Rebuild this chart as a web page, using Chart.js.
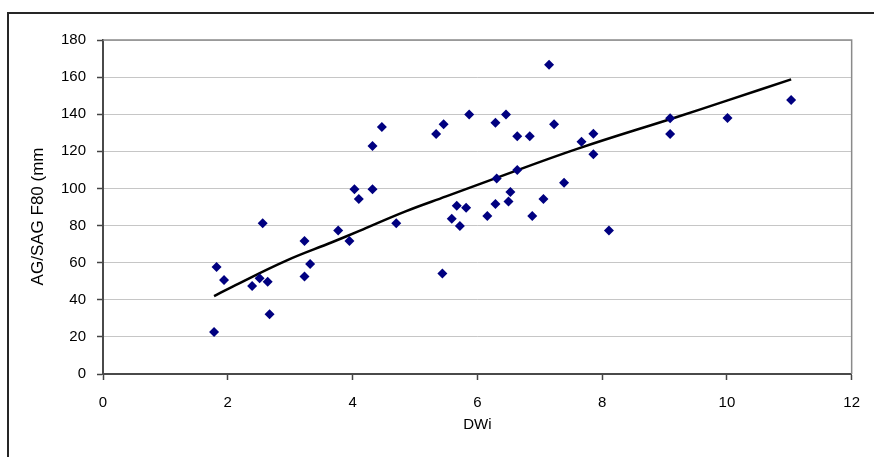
<!DOCTYPE html>
<html>
<head>
<meta charset="utf-8">
<script src="https://cdn.jsdelivr.net/npm/chart.js@4.4.1/dist/chart.umd.min.js"></script>
<style>
  html, body { margin: 0; padding: 0; background: #fff; overflow: hidden; }
  #wrap { position: relative; width: 874px; height: 457px; overflow: hidden; }
  #frame { position: absolute; left: 7px; top: 12px; width: 900px; height: 500px; border: 2px solid #262626; }
  canvas { position: absolute; left: 0; top: 0; }
</style>
</head>
<body>
<div id="wrap">
  <div id="frame"></div>
  <canvas id="c" width="874" height="457"></canvas>
</div>
<script>
// Observed points (DWi, AG/SAG F80)
const dwi = [1.78, 1.82, 1.94, 2.39, 2.51, 2.56, 2.64, 2.67, 3.23, 3.23, 3.32, 3.77, 3.95, 4.03, 4.10, 4.32, 4.32, 4.47, 4.70, 5.34,
             5.44, 5.46, 5.59, 5.67, 5.72, 5.82, 5.87, 6.16, 6.29, 6.29, 6.31, 6.46, 6.50, 6.53, 6.64, 6.64, 6.84, 6.88, 7.06, 7.15,
             7.23, 7.39, 7.67, 7.86, 7.86, 8.11, 9.09, 9.09, 10.01, 11.03];
const f80 = [22.6, 57.7, 50.7, 47.4, 51.6, 81.2, 49.7, 32.2, 71.7, 52.6, 59.3, 77.4, 71.7, 99.5, 94.3, 122.9, 99.5, 133.1, 81.2, 129.3,
             54.1, 134.6, 83.7, 90.7, 79.8, 89.6, 139.8, 85.1, 135.4, 91.6, 105.4, 139.8, 92.9, 98.1, 128.1, 109.9, 128.1, 85.1, 94.3, 166.7,
             134.6, 103.1, 125.2, 129.5, 118.4, 77.4, 137.8, 129.3, 138.0, 147.7];
// Trend curve
const trendX = [1.78, 2.07, 2.93, 3.67, 4.10, 4.84, 5.50, 6.22, 7.60, 9.20, 10.00, 11.03];
const trendY = [42, 47, 61, 71, 77, 87.5, 95.7, 104.6, 121.3, 138.5, 147.3, 158.8];
// Axis settings
const xTicks = { min: 0, max: 12, step: 2 };
const yTicks = { min: 0, max: 180, step: 20 };
const xTitle = 'DWi';
const yTitle = 'AG/SAG F80 (mm';

const FONT = '"Liberation Sans", Arial, sans-serif';

const borderPlugin = {
  id: 'plotBorder',
  beforeDatasetsDraw(chart) {
    const { ctx, chartArea: a } = chart;
    ctx.save();
    ctx.strokeStyle = '#8a8a8a';
    ctx.lineWidth = 1.5;
    ctx.beginPath();
    ctx.moveTo(a.left, a.top);
    ctx.lineTo(a.right, a.top);
    ctx.lineTo(a.right, a.bottom);
    ctx.stroke();
    ctx.restore();
  }
};

new Chart(document.getElementById('c'), {
  type: 'scatter',
  data: {
    datasets: [
      {
        label: 'trend',
        data: trendX.map((x, i) => ({ x, y: trendY[i] })),
        showLine: true,
        borderColor: '#000000',
        borderWidth: 2.5,
        pointRadius: 0,
        tension: 0.4,
        order: 2
      },
      {
        label: 'data',
        data: dwi.map((x, i) => ({ x, y: f80[i] })),
        pointStyle: 'rectRot',
        pointRadius: 5,
        backgroundColor: '#000080',
        borderColor: '#000080',
        borderWidth: 0,
        order: 1
      }
    ]
  },
  options: {
    responsive: false,
    animation: false,
    devicePixelRatio: 1,
    layout: { padding: { left: 0, top: 40, right: 17, bottom: 0 } },
    plugins: { legend: { display: false }, tooltip: { enabled: false } },
    scales: {
      x: {
        type: 'linear',
        min: xTicks.min, max: xTicks.max,
        ticks: { stepSize: xTicks.step, color: '#000', font: { family: FONT, size: 15 }, padding: 14 },
        grid: { drawOnChartArea: false, drawTicks: true, tickLength: 6, tickColor: '#444', tickWidth: 1.5 },
        border: { color: '#4a4a4a', width: 2 },
        title: { display: true, text: xTitle, color: '#000', font: { family: FONT, size: 15 }, padding: { top: 0, bottom: 23 } },
        afterFit(s) { s.height = 83; }
      },
      y: {
        type: 'linear',
        min: yTicks.min, max: yTicks.max,
        ticks: { stepSize: yTicks.step, color: '#000', font: { family: FONT, size: 15 }, padding: 11 },
        grid: { color: '#c6c6c6', lineWidth: 1, drawTicks: true, tickLength: 6, tickColor: '#444', tickWidth: 1.5 },
        border: { color: '#4a4a4a', width: 2 },
        title: { display: true, text: yTitle + '    ', color: '#000', font: { family: FONT, size: 17 }, padding: { top: 28, bottom: 0 } },
        afterFit(s) { s.width = 103; }
      }
    }
  },
  plugins: [borderPlugin]
});
</script>
</body>
</html>
